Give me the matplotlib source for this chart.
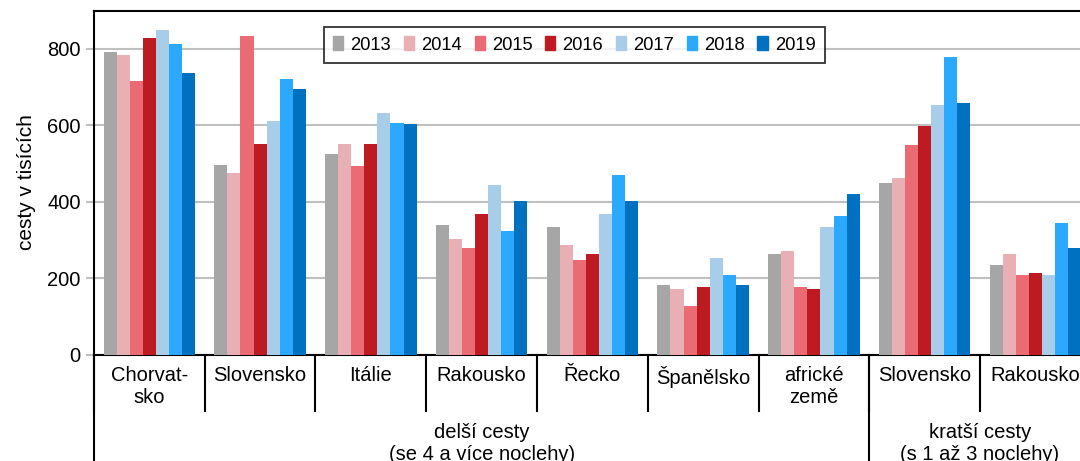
import numpy as np
import matplotlib.pyplot as plt
from matplotlib.patches import Patch

plt.rcParams['font.family'] = ['Liberation Sans', 'DejaVu Sans']

# data (trips in thousands)
categories = ['Chorvat-\nsko', 'Slovensko', 'Itálie', 'Rakousko', 'Řecko',
              'Španělsko', 'africké\nzemě', 'Slovensko', 'Rakousko']
years = ['2013', '2014', '2015', '2016', '2017', '2018', '2019']
groups = ['delší cesty\n(se 4 a více noclehy)', 'kratší cesty\n(s 1 až 3 noclehy)']
group_sizes = [7, 2]

v2013 = [792, 495, 526, 338, 333, 182, 262, 450, 233]
v2014 = [783, 475, 550, 303, 287, 171, 272, 461, 263]
v2015 = [717, 833, 494, 278, 248, 126, 177, 547, 208]
v2016 = [828, 551, 550, 369, 262, 177, 172, 597, 213]
v2017 = [848, 611, 631, 444, 369, 252, 333, 653, 208]
v2018 = [813, 722, 606, 323, 469, 207, 363, 778, 345]
v2019 = [738, 696, 602, 403, 403, 182, 419, 657, 279]
series = [v2013, v2014, v2015, v2016, v2017, v2018, v2019]

colors = ['#A6A6A6', '#E8B0B4', '#EA6B73', '#BE1A22', '#A8CDE8', '#2AA9FF', '#0070C0']

fig = plt.figure(figsize=(10.8, 4.61), dpi=100)
ax = fig.add_axes([0.0870, 0.231, 0.923, 0.746])

x = np.arange(len(categories))
w = 0.118
for i, vals in enumerate(series):
    ax.bar(x + (i - 3) * w, vals, width=w, color=colors[i], zorder=3)

ax.set_xlim(-0.5, len(categories) - 0.5)
ax.set_ylim(0, 900)
ax.set_yticks([0, 200, 400, 600, 800])
ax.yaxis.grid(True, color='#C0C0C0', linewidth=1.5, zorder=0)
ax.tick_params(axis='y', labelsize=14.5, length=6, color='#C0C0C0', width=1.5)
ax.set_xticks([])
ax.set_ylabel('cesty v tisících', fontsize=15, labelpad=8)

ax.spines['right'].set_visible(False)
for s in ['top', 'bottom', 'left']:
    ax.spines[s].set_linewidth(1.5)

# two-level category axis
trans = ax.get_xaxis_transform()
for i in range(len(categories) + 1):
    ax.plot([i - 0.5, i - 0.5], [0, -0.164], color='black', lw=1.5,
            transform=trans, clip_on=False)
for i, lab in enumerate(categories):
    ax.text(i, -0.032, lab, transform=trans, ha='center', va='top',
            fontsize=14.5, linespacing=1.25)

start = 0
for g, n in zip(groups, group_sizes):
    ax.plot([start - 0.5, start - 0.5], [0, -0.4], color='black', lw=1.5,
            transform=trans, clip_on=False)
    ax.text(start + (n - 1) / 2, -0.198, g, transform=trans, ha='center', va='top',
            fontsize=14.5, linespacing=1.2)
    start += n
ax.plot([start - 0.5, start - 0.5], [0, -0.4], color='black', lw=1.5,
        transform=trans, clip_on=False)

handles = [Patch(color=c, label=y) for c, y in zip(colors, years)]
leg = ax.legend(handles=handles, ncol=7, loc='upper left',
                bbox_to_anchor=(0.300, 0.9414), bbox_transform=fig.transFigure,
                borderaxespad=0, fontsize=13.2, frameon=True, fancybox=False,
                handlelength=0.55, handleheight=0.8, handletextpad=0.39,
                columnspacing=0.7, borderpad=0.5)
leg.get_frame().set_edgecolor('black')
leg.get_frame().set_linewidth(1.3)

fig.savefig('out.png', dpi=100)
